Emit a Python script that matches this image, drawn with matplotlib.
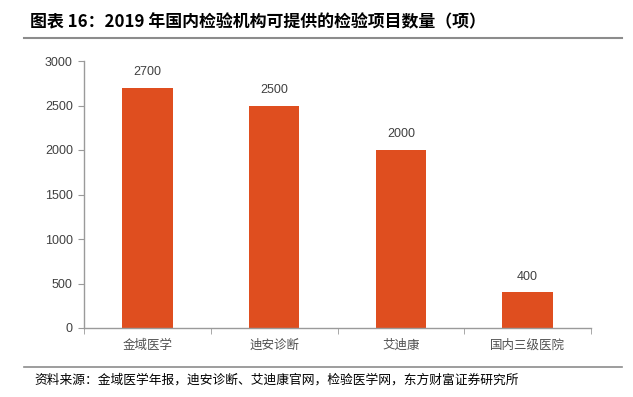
import matplotlib
matplotlib.use('Agg')
import matplotlib.pyplot as plt
import numpy as np

plt.rcParams['font.family'] = ['Noto Sans CJK SC', 'DejaVu Sans']

categories = ['金域医学', '迪安诊断', '艾迪康', '国内三级医院']
values = [2700, 2500, 2000, 400]
yticks = [0, 500, 1000, 1500, 2000, 2500, 3000]

title = '图表 16：2019 年国内检验机构可提供的检验项目数量（项）'
source = '资料来源：金域医学年报，迪安诊断、艾迪康官网，检验医学网，东方财富证券研究所'

fig = plt.figure(figsize=(6.33, 3.97), dpi=100)
ax = fig.add_axes([84 / 633, 1 - 328 / 397, (591 - 84) / 633, (328 - 61) / 397])

x = np.arange(len(categories))
bars = ax.bar(x, values, width=0.4, color='#DF4E1F')
for xi, v in zip(x, values):
    ax.text(xi, v + 110, str(v), ha='center', va='bottom', fontsize=9,
            color='#404040', family=['Liberation Sans', 'DejaVu Sans'])

ax.set_xlim(-0.5, len(categories) - 0.5)
ax.set_ylim(0, 3000)
ax.set_yticks(yticks)
ax.set_yticklabels([str(t) for t in yticks], fontsize=9, color='#404040',
                   family=['Liberation Sans', 'DejaVu Sans'])
ax.set_xticks(x)
ax.set_xticklabels(categories, fontsize=9, color='#505050')
ax.set_xticks(np.arange(len(categories) + 1) - 0.5, minor=True)
ax.tick_params(axis='x', which='major', length=0, pad=8)
ax.tick_params(axis='x', which='minor', length=4, color='#9a9a9a', direction='out')
ax.tick_params(axis='y', length=4, color='#9a9a9a', direction='out', pad=4)

for s in ['top', 'right']:
    ax.spines[s].set_visible(False)
for s in ['left', 'bottom']:
    ax.spines[s].set_color('#9a9a9a')
    ax.spines[s].set_linewidth(1.0)

fig.text(30 / 633, 1 - 22 / 397, title, fontsize=12.2, fontweight='bold',
         va='center', ha='left', color='black')
fig.add_artist(plt.Line2D([24 / 633, 622 / 633], [1 - 38 / 397, 1 - 38 / 397],
                          color='#8c8c8c', linewidth=1.5))
fig.add_artist(plt.Line2D([24 / 633, 622 / 633], [1 - 367 / 397, 1 - 367 / 397],
                          color='#8c8c8c', linewidth=1.2))
fig.text(34 / 633, 1 - 380 / 397, source, fontsize=9.2, va='center', ha='left',
         color='black')

fig.savefig('out.png', dpi=100)
